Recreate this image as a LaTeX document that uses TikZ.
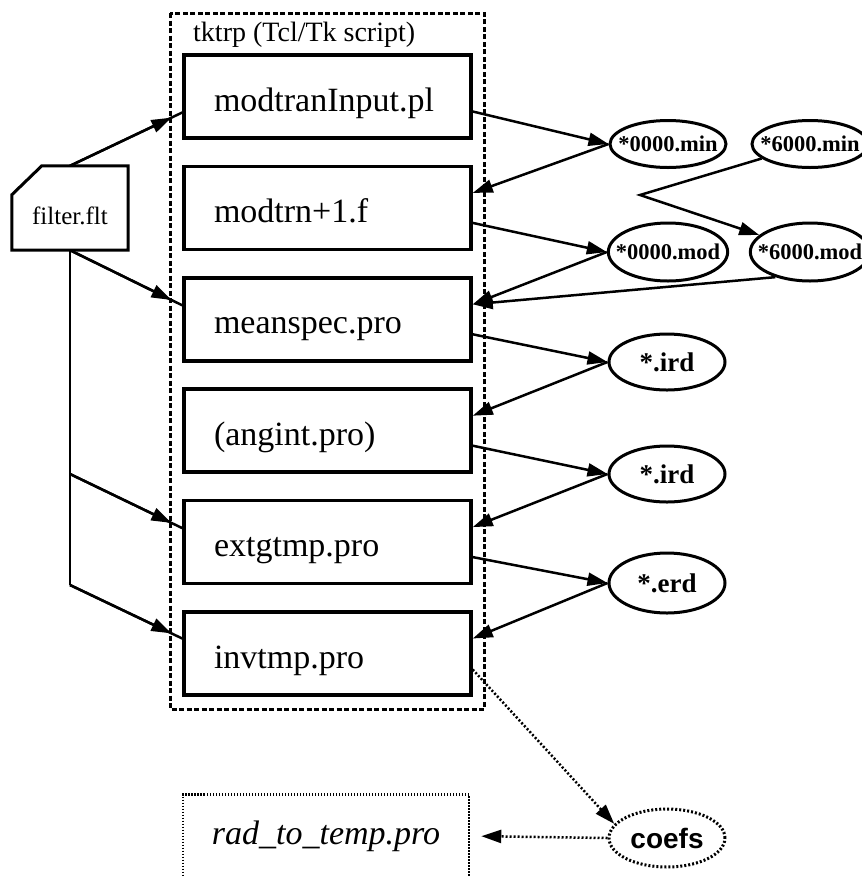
\documentclass[tikz,border=0pt]{standalone}
\usepackage{fontspec}
\setmainfont{Liberation Serif}
\newfontfamily\sansfont{Liberation Sans}
\usetikzlibrary{arrows.meta,shapes.geometric}

\begin{document}
\begin{tikzpicture}[x=1pt,y=-1pt,
    prog/.style={draw,line width=3.5pt,minimum height=83pt,text width=227pt,inner xsep=30pt,inner ysep=0pt,
      align=left,text height=29pt,text depth=0pt,font=\fontsize{34}{40}\selectfont},
    datafile/.style={draw,ellipse,line width=3pt,minimum width=116pt,inner xsep=-10pt,inner ysep=0pt,
      font=\bfseries\fontsize{27}{30}\selectfont},
    small/.style={font=\bfseries\fontsize{22.5}{26}\selectfont},
    arr/.style={line width=2.5pt,-{Triangle[length=20pt,width=13pt]}},
    leftin/.style={shorten >=12pt,postaction={draw,-,shorten >=0pt}},
    dotline/.style={dash pattern=on 2pt off 2pt},
    cluster/.style={line width=3pt,dash pattern=on 5pt off 2.5pt}]
  \useasboundingbox (0,0) rectangle (862,876);

  % the tktrp script and its programs
  \draw[cluster] (170,13) rectangle (484,709);
  \node[anchor=base west,inner sep=0pt,font=\fontsize{28}{32}\selectfont] (title) at (193,41) {tktrp (Tcl/Tk script)};
  \foreach \i/\prg in {1/modtranInput.pl, 2/modtrn+1.f, 3/meanspec.pro, 4/{(angint.pro)}, 5/extgtmp.pro, 6/invtmp.pro} {
    \node[prog] (b\i) at (327.5,{96.5+(\i-1)*111.4}) {\prg};
  }

  % filter file
  \node[minimum width=116pt,minimum height=84pt,inner sep=0pt,text height=32pt,text depth=0pt,
    font=\fontsize{25}{30}\selectfont] (filt) at (70,208) {filter.flt};
  \draw[line width=3pt] (filt.south west) -- (filt.south east) -- (filt.north east)
    -- ([xshift=30pt]filt.north west) -- ([yshift=-29pt]filt.north west) -- cycle;
  \coordinate (fork1) at (70,474);
  \coordinate (fork2) at (70,585);

  % data files
  \node[datafile,small,minimum height=47pt] (min0) at (668,144) {*0000.min};
  \node[datafile,small,minimum height=47pt] (min6) at (810,144) {*6000.min};
  \node[datafile,small,minimum height=58pt] (mod0) at (668,252) {*0000.mod};
  \node[datafile,small,minimum height=58pt] (mod6) at (810,252) {*6000.mod};
  \node[datafile,minimum height=56pt] (ird1) at (667,362) {*.ird};
  \node[datafile,minimum height=56pt] (ird2) at (667,474) {*.ird};
  \node[datafile,minimum height=60pt] (erd) at (667,583) {*.erd};
  \node[datafile,dotline,minimum height=58pt,font=\sansfont\bfseries\fontsize{28}{32}\selectfont] (coefs) at (667,838) {coefs};
  \coordinate (kink) at (640,195);

  \node[draw,line width=2.5pt,dash pattern=on 1.5pt off 1.5pt,minimum width=286pt,minimum height=83pt,
    font=\itshape\fontsize{34}{40}\selectfont] (rad) at (326,836) {rad\_to\_temp.pro};

  % connectors
  \draw[arr,leftin] (filt.north) -- ([yshift=-16pt]b1.west);
  \draw[arr,leftin] (filt.south) -- ([yshift=14pt]b3.west);
  \draw[line width=2.5pt] (filt.south) -- (fork2);
  \draw[arr,leftin] (fork1) -- ([yshift=14pt]b5.west);
  \draw[arr,leftin] (fork2) -- ([yshift=15pt]b6.west);

  \draw[arr] ([yshift=-15pt]b1.east) -- (min0.west);
  \draw[arr] (min0.west) -- ([yshift=15pt]b2.east);
  \draw[arr] ([yshift=-15pt]b2.east) -- (mod0.west);
  \draw[arr] (mod0.west) -- ([yshift=15pt]b3.east);
  \draw[arr] (min6) -- (kink) -- (mod6);
  \draw[arr] (mod6.216) -- ([yshift=15pt]b3.east);
  \draw[arr] ([yshift=-15pt]b3.east) -- (ird1.west);
  \draw[arr] (ird1.west) -- ([yshift=15pt]b4.east);
  \draw[arr] ([yshift=-15pt]b4.east) -- (ird2.west);
  \draw[arr] (ird2.west) -- ([yshift=15pt]b5.east);
  \draw[arr] ([yshift=-15pt]b5.east) -- (erd.west);
  \draw[arr] (erd.west) -- ([yshift=15pt]b6.east);
  \draw[arr,dotline] ([yshift=-16pt]b6.east) -- (coefs.165);
  \draw[arr,dotline,shorten >=11pt] (coefs.west) -- (rad.east);
\end{tikzpicture}
\end{document}
